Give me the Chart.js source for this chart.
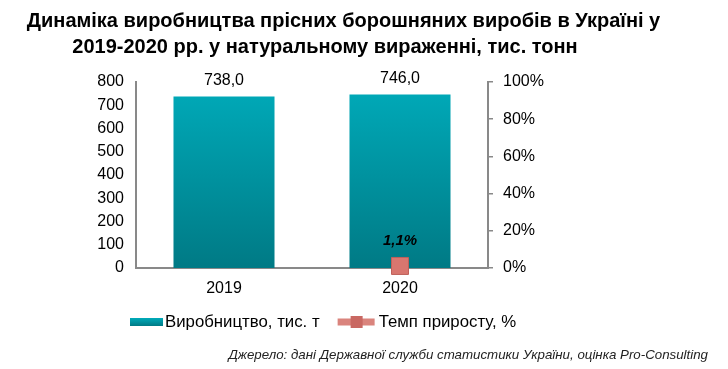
<!DOCTYPE html>
<html><head><meta charset="utf-8">
<script src="https://cdn.jsdelivr.net/npm/chart.js@4.4.0/dist/chart.umd.min.js"></script>
<style>
html,body{margin:0;padding:0;background:#fff;}
#wrap{position:relative;width:728px;height:369px;overflow:hidden;background:#fff;}
canvas{position:absolute;left:0;top:0;}
.t{position:absolute;top:0;text-align:center;font:bold 20px "Liberation Sans",Arial,sans-serif;line-height:25px;color:#000;white-space:nowrap;}
#src{position:absolute;right:20px;top:347px;font:italic 13.3px "Liberation Sans",Arial,sans-serif;color:#222;white-space:nowrap;}
</style></head>
<body><div id="wrap">
<canvas id="c" width="728" height="369"></canvas>
<div class="t" style="left:0;width:687px;top:8px;">Динаміка виробництва прісних борошняних виробів в Україні у</div>
<div class="t" style="left:0;width:650px;top:34px;">2019-2020 рр. у натуральному вираженні, тис. тонн</div>
<div id="src">Джерело: дані Державної служби статистики України, оцінка Pro-Consulting</div>
</div>
<script>
const categories = ['2019', '2020'];
const production = [738.0, 746.0];
const growthPct = [null, 1.1];
const seriesNames = ['Виробництво, тис. т', 'Темп приросту, %'];

const FONT = '"Liberation Sans", Arial, sans-serif';
const AXIS = '#898989';

function barGradient(ctx, top, bottom) {
  const g = ctx.createLinearGradient(0, top, 0, bottom);
  g.addColorStop(0, '#00ABBA');
  g.addColorStop(1, '#007A85');
  return g;
}

const labelPlugin = {
  id: 'labels',
  afterDatasetsDraw(chart) {
    const ctx = chart.ctx;
    ctx.save();
    ctx.fillStyle = '#000';
    ctx.textAlign = 'center';
    ctx.textBaseline = 'middle';
    ctx.font = '16px ' + FONT;
    chart.getDatasetMeta(0).data.forEach((el, i) => {
      const v = production[i];
      ctx.fillText(v.toFixed(1).replace('.', ','), el.x, el.y - 16);
    });
    ctx.font = 'italic bold 15px ' + FONT;
    chart.getDatasetMeta(1).data.forEach((el, i) => {
      const v = growthPct[i];
      if (v === null || v === undefined) return;
      ctx.fillText(v.toFixed(1).replace('.', ',') + '%', el.x, el.y - 25);
    });
    ctx.restore();
  }
};

const legendPlugin = {
  id: 'customLegend',
  afterDraw(chart) {
    const ctx = chart.ctx;
    ctx.save();
    const cy = 322;
    let x = 130;
    ctx.font = '16.8px ' + FONT;
    ctx.textBaseline = 'middle';
    ctx.textAlign = 'left';
    ctx.fillStyle = barGradient(ctx, cy - 4, cy + 4);
    ctx.fillRect(x, cy - 4, 33, 8);
    x += 35;
    ctx.fillStyle = '#000';
    ctx.fillText(chart.data.datasets[0].label, x, cy);
    x += ctx.measureText(chart.data.datasets[0].label).width + 18;
    ctx.strokeStyle = '#DA847D';
    ctx.lineWidth = 7;
    ctx.beginPath();
    ctx.moveTo(x, cy);
    ctx.lineTo(x + 37, cy);
    ctx.stroke();
    ctx.fillStyle = '#C96862';
    ctx.fillRect(x + 13, cy - 6, 12, 12);
    x += 41;
    ctx.fillStyle = '#000';
    ctx.fillText(chart.data.datasets[1].label, x, cy);
    ctx.restore();
  }
};

new Chart(document.getElementById('c'), {
  data: {
    labels: categories,
    datasets: [
      {
        type: 'bar',
        label: seriesNames[0],
        data: production,
        yAxisID: 'y',
        backgroundColor: (c) => {
          const a = c.chart.chartArea;
          if (!a) return '#0094A2';
          return barGradient(c.chart.ctx, a.top, a.bottom);
        },
        borderWidth: 0,
        categoryPercentage: 1,
        barPercentage: 0.574,
        order: 1
      },
      {
        type: 'line',
        label: seriesNames[1],
        data: growthPct,
        yAxisID: 'y1',
        showLine: false,
        borderColor: '#DA847D',
        pointStyle: 'rect',
        pointRadius: 12,
        pointBackgroundColor: '#D8766F',
        pointBorderColor: '#C0605A',
        pointBorderWidth: 1,
        clip: false,
        order: 0
      }
    ]
  },
  options: {
    responsive: false,
    animation: false,
    devicePixelRatio: 1,
    layout: { padding: { top: 82, left: 0, right: 0, bottom: 0 } },
    plugins: { legend: { display: false }, title: { display: false }, tooltip: { enabled: false } },
    scales: {
      x: {
        type: 'category',
        offset: true,
        grid: { display: false, drawTicks: false },
        border: { display: true, color: AXIS, width: 2 },
        ticks: { color: '#000', font: { family: FONT, size: 16 }, padding: 11 },
        afterFit: (s) => { s.height = 101; }
      },
      y: {
        position: 'left',
        min: 0, max: 800,
        grid: { display: false, drawTicks: false },
        border: { display: true, color: AXIS, width: 2 },
        ticks: { stepSize: 100, color: '#000', font: { family: FONT, size: 16 }, padding: 12 },
        afterFit: (s) => { s.width = 136; }
      },
      y1: {
        position: 'right',
        min: 0, max: 100,
        grid: { display: true, drawOnChartArea: false, drawTicks: true, tickLength: 5, color: AXIS, lineWidth: 1.5 },
        border: { display: true, color: AXIS, width: 2 },
        ticks: { stepSize: 20, color: '#000', font: { family: FONT, size: 16 }, padding: 10, callback: (v) => v + '%' },
        afterFit: (s) => { s.width = 240; }
      }
    }
  },
  plugins: [labelPlugin, legendPlugin]
});
</script>
</body></html>
